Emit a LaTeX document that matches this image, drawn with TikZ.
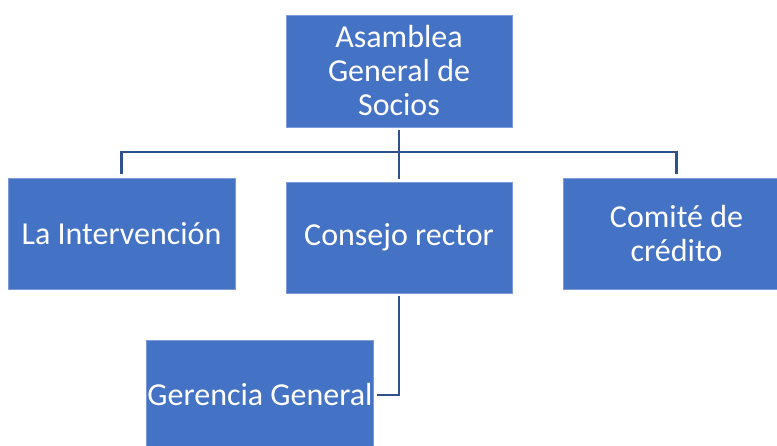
\documentclass[tikz,border=0pt]{standalone}
\usepackage{fontspec}
\setmainfont{Carlito}
\definecolor{boxblue}{HTML}{4472C4}
\definecolor{boxedge}{HTML}{7C9BD6}
\definecolor{linkblue}{HTML}{2F528F}
\begin{document}
\begin{tikzpicture}[x=1pt,y=-1pt,
  orgbox/.style={draw=boxedge,line width=0.8pt,fill=boxblue,text=white,
    inner sep=0pt,align=center,
    font=\fontsize{32}{34}\selectfont},
  conn/.style={draw=linkblue,line width=2.6pt}]
\useasboundingbox (0,0) rectangle (777,446);
\begin{scope}
\clip (0,0) rectangle (777,446);
\node[orgbox,minimum width=226pt,minimum height=112pt] (asam) at (399,71) {Asamblea\\General de\\Socios};
\node[orgbox,minimum width=227pt,minimum height=111pt] (inter) at (121.5,233.5) {La Intervención};
\node[orgbox,minimum width=226pt,minimum height=111pt] (cons) at (399,237.5) {Consejo rector};
\node[orgbox,minimum width=226pt,minimum height=111pt] (comi) at (676.5,233.5) {Comité de\\crédito};
\node[orgbox,minimum width=227pt,minimum height=109pt] (ger) at (260,395) {Gerencia General};
\end{scope}
\coordinate (bus) at (399,152);
\draw[conn,shorten <=3pt,shorten >=3pt] (asam.south) -- (cons.north);
\draw[conn,shorten <=4pt,shorten >=4pt] (inter.north) |- (bus) -| (comi.north);
\draw[conn,shorten <=3pt,shorten >=3pt] (cons.south) |- (ger.east);
\end{tikzpicture}
\end{document}
